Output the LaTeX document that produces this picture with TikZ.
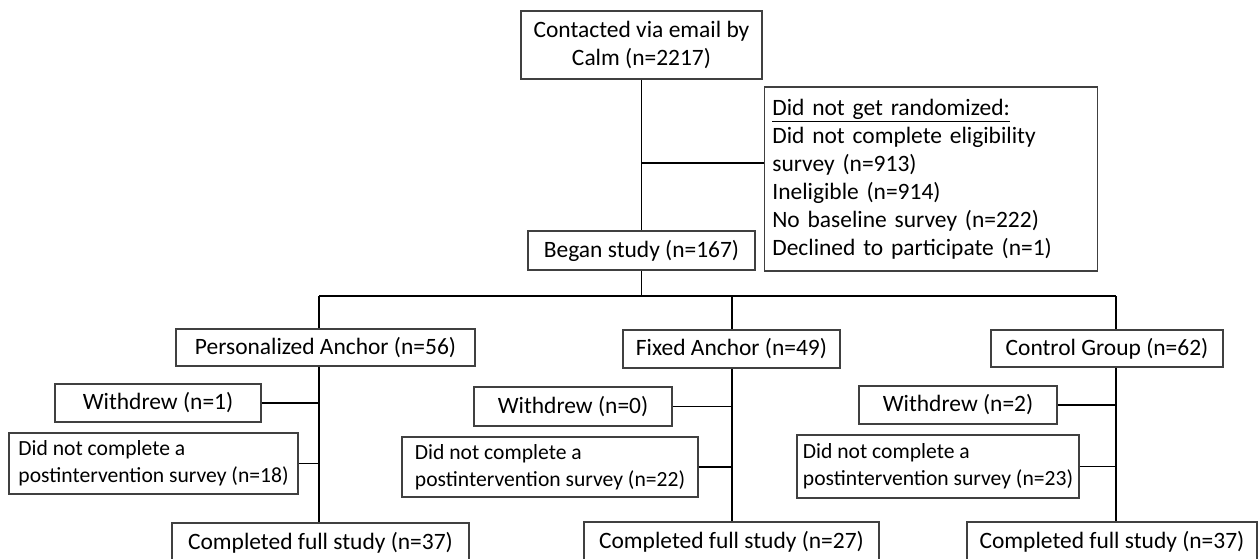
\documentclass[tikz,border=0pt]{standalone}
\usepackage{fontspec}
\setmainfont{Carlito}
\usetikzlibrary{calc}

\tikzset{
  box/.style={draw={rgb,255:red,64;green,64;blue,64}, line width=1.1pt, inner sep=2pt, font=\fontsize{17.6}{21}\selectfont, align=center},
  smallbox/.style={box, font=\fontsize{16.2}{20}\selectfont, align=left},
  conn/.style={draw=black, line width=1.4pt}
}

\begin{document}
\begin{tikzpicture}[x=0.75pt,y=0.75pt,yscale=-1,xscale=1]
				\useasboundingbox (0,0) rectangle (1258,558);
				
				% Text Node
				\node [box, minimum width=180.75pt, minimum height=51pt] (contact) at (641.5,45) {Contacted via email by\\Calm (n=2217)};
				% Text Node
				\node [box, align=left, text width=238pt, minimum height=138pt, inner xsep=6pt] (excl) at (931,179) {\underline{Did not get randomized:}\\Did not complete eligibility\\survey (n=913)\\Ineligible (n=914)\\No baseline survey (n=222)\\Declined to participate (n=1)};
				% Text Node
				\node [box, minimum width=170.25pt, minimum height=29.25pt] (began) at (641.5,250.5) {Began study (n=167)};
				
				% Text Node
				\node [box, minimum width=224.25pt, minimum height=27.75pt] (pa) at (325.5,347.5) {Personalized Anchor (n=56)};
				% Text Node
				\node [box, minimum width=162.75pt, minimum height=28.5pt] (fa) at (731.5,349) {Fixed Anchor (n=49)};
				% Text Node
				\node [box, minimum width=174pt, minimum height=27.75pt] (cg) at (1107,348.5) {Control Group (n=62)};
				
				% Text Node
				\node [box, minimum width=154.5pt, minimum height=28.5pt] (wd1) at (158,403) {Withdrew (n=1)};
				% Text Node
				\node [smallbox, minimum width=216.75pt, minimum height=45.75pt] (nc1) at (153.5,463.5) {Did not complete a\\postintervention survey (n=18)};
				% Text Node
				\node [box, minimum width=222.75pt, minimum height=30pt] (done1) at (320.5,543) {Completed full study (n=37)};
				
				% Text Node
				\node [box, minimum width=148.5pt, minimum height=29.25pt] (wd2) at (573,406.5) {Withdrew (n=0)};
				% Text Node
				\node [smallbox, minimum width=222pt, minimum height=45pt] (nc2) at (550,467) {Did not complete a\\postintervention survey (n=22)};
				% Text Node
				\node [box, minimum width=221.25pt, minimum height=30pt] (done2) at (731.5,542) {Completed full study (n=27)};
				
				% Text Node
				\node [box, minimum width=148.5pt, minimum height=28.5pt] (wd3) at (958,405) {Withdrew (n=2)};
				% Text Node
				\node [smallbox, minimum width=211.5pt, minimum height=47.25pt] (nc3) at (938,466.5) {Did not complete a\\postintervention survey (n=23)};
				% Text Node
				\node [box, minimum width=217.5pt, minimum height=30pt] (done3) at (1112,542) {Completed full study (n=37)};
				
				% Junctions
				\coordinate (split) at (641.5,163);
				\coordinate (bus) at (641.5,296);
				\coordinate (sp1) at (319,296);
				\coordinate (sp2) at (732,296);
				\coordinate (sp3) at (1116,296);
				
				% Connection
				\draw [conn] (contact.south) -- (began.north);
				% Connection
				\draw [conn] (split) -- (split -| excl.west);
				% Connection
				\draw [conn] (began.south) -- (bus);
				\draw [conn] (sp1) -- (sp3);
				% Connection
				\draw [conn] (sp1) -- (sp1 |- pa.north);
				\draw [conn] (sp2) -- (sp2 |- fa.north);
				\draw [conn] (sp3) -- (sp3 |- cg.north);
				% Connection
				\draw [conn] (sp1 |- pa.south) -- (sp1 |- done1.north);
				\draw [conn] (sp2 |- fa.south) -- (sp2 |- done2.north);
				\draw [conn] (sp3 |- cg.south) -- (sp3 |- done3.north);
				% Connection
				\draw [conn] (wd1.east) -- (wd1.east -| sp1);
				\draw [conn] (nc1.east) -- (nc1.east -| sp1);
				\draw [conn] (wd2.east) -- (wd2.east -| sp2);
				\draw [conn] (nc2.east) -- (nc2.east -| sp2);
				\draw [conn] (wd3.east) -- (wd3.east -| sp3);
				\draw [conn] (nc3.east) -- (nc3.east -| sp3);
				
\end{tikzpicture}
\end{document}
